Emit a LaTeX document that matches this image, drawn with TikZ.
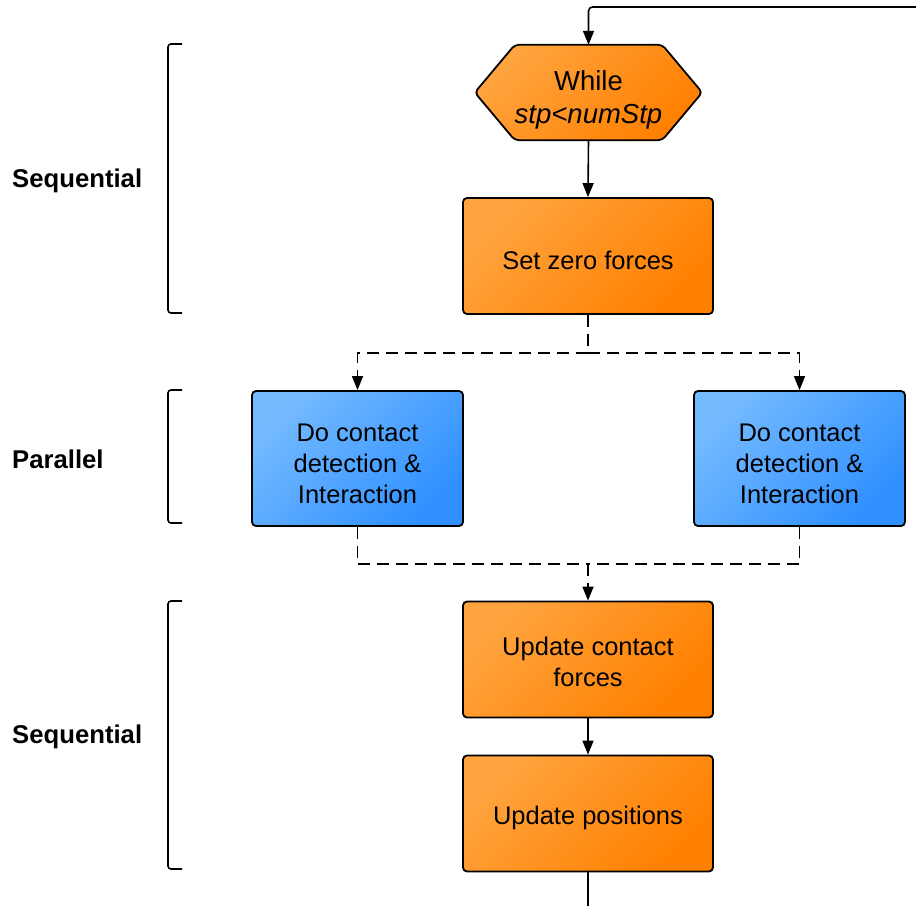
\documentclass[tikz,border=0pt]{standalone}
\usepackage{fontspec}
\setmainfont{Liberation Sans}
\usetikzlibrary{arrows.meta,backgrounds}
\definecolor{orA}{HTML}{FFA43F}
\definecolor{orB}{HTML}{FF8000}
\definecolor{blA}{HTML}{74BAFF}
\definecolor{blB}{HTML}{3090FF}
\newcommand\lowtext[2]{\raisebox{-#1}[\height][\depth]{\begin{tabular}{@{}c@{}}#2\end{tabular}}}
\begin{document}
\begin{tikzpicture}[x=1pt,y=-1pt,
  txt/.style={font=\fontsize{25.5}{31}\selectfont, text=black},
  oneline/.style={text height=27pt},
  box/.style={txt, draw=black, line width=1.8pt, rounded corners=4pt, inner sep=0pt},
  orangebox/.style={box, top color=orA, bottom color=orB, shading angle=45, minimum width=250pt, minimum height=116pt},
  bluebox/.style={box, top color=blA, bottom color=blB, shading angle=45, minimum width=211pt, minimum height=135pt},
  conn/.style={draw=black, line width=1.6pt},
  tip/.style={-{Triangle[length=14pt,width=11pt]}},
  dsh/.style={dash pattern=on 12pt off 7pt},
  sidelabel/.style={font=\fontsize{25.7}{30}\selectfont\bfseries, text=black, anchor=west, inner sep=0pt},
  bracket/.style={draw=black, line width=1.6pt, rounded corners=3pt}
]
\useasboundingbox (0,0) rectangle (916,906);

% nodes
\node[font=\fontsize{27.5}{33}\selectfont, text=black, minimum width=227pt, minimum height=95pt, inner sep=0pt] (while) at (588.5,92.5) {\lowtext{8pt}{While\\\textit{stp<numStp}}};
\begin{scope}[on background layer]
\path[draw=black, line width=1.8pt, rounded corners=4pt, top color=orA, bottom color=orB, shading angle=45]
  (while.west) -- ([xshift=40pt]while.north west) -- ([xshift=-40pt]while.north east)
  -- (while.east) -- ([xshift=-40pt]while.south east) -- ([xshift=40pt]while.south west) -- cycle;
\end{scope}

\node[orangebox, oneline] (setzero) at (588,256) {Set zero forces};
\node[bluebox] (blueL) at (357.5,458.5) {\lowtext{8pt}{Do contact\\detection \&\\Interaction}};
\node[bluebox] (blueR) at (799.5,458.5) {\lowtext{8pt}{Do contact\\detection \&\\Interaction}};
\node[orangebox] (updcf) at (588,659.5) {\lowtext{5pt}{Update contact\\forces}};
\node[orangebox, oneline] (updpos) at (588,813.5) {Update positions};

% coordinates
\coordinate (topright) at (916,7);
\coordinate (split) at (588,353);
\coordinate (join) at (588,564);
\coordinate (bottom) at (588,906);

% connectors
\draw[conn, tip, rounded corners=4pt] (topright) -| (while.north);
\draw[conn, tip] (while.south) -- (setzero.north);
\draw[conn, dsh] (setzero.south) -- (split);
\draw[conn, dsh, tip] (split) -| (blueL.north);
\draw[conn, dsh, tip] (split) -| (blueR.north);
\draw[conn, dsh] (blueL.south) |- (join);
\draw[conn, dsh] (blueR.south) |- (join);
\draw[conn, dsh, tip] (join) -- (updcf.north);
\draw[conn, tip] (updcf.south) -- (updpos.north);
\draw[conn] (updpos.south) -- (bottom);

% brackets
\draw[bracket] (182,44) -- (168,44) -- (168,313) -- (182,313);
\draw[bracket] (182,390) -- (168,390) -- (168,523) -- (182,523);
\draw[bracket] (182,601) -- (168,601) -- (168,869) -- (182,869);

% labels
\node[sidelabel] (seqA) at (12,181) {Sequential};
\node[sidelabel] (par) at (12,459) {Parallel};
\node[sidelabel] (seqB) at (12,737) {Sequential};
\end{tikzpicture}
\end{document}
